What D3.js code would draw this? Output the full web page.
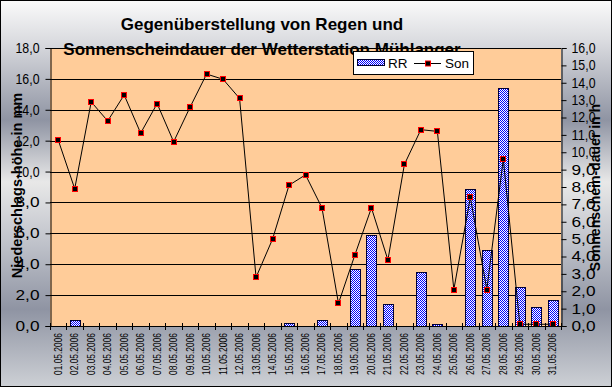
<!DOCTYPE html>
<html>
<head>
<meta charset="utf-8">
<script src="https://cdn.jsdelivr.net/npm/d3@7"></script>
<style>
  body { margin: 0; }
  svg text { font-family: "Liberation Sans", Arial, sans-serif; }
</style>
</head>
<body>
<svg id="canvas" width="612" height="387"></svg>
<script>
var days = ["01.05.2006", "02.05.2006", "03.05.2006", "04.05.2006", "05.05.2006", "06.05.2006",
    "07.05.2006", "08.05.2006", "09.05.2006", "10.05.2006", "11.05.2006", "12.05.2006",
    "13.05.2006", "14.05.2006", "15.05.2006", "16.05.2006", "17.05.2006", "18.05.2006",
    "19.05.2006", "20.05.2006", "21.05.2006", "22.05.2006", "23.05.2006", "24.05.2006",
    "25.05.2006", "26.05.2006", "27.05.2006", "28.05.2006", "29.05.2006", "30.05.2006",
    "31.05.2006"];

// Niederschlag (mm), linke Achse
var rr = [0, 0.4, 0, 0, 0, 0, 0, 0, 0, 0, 0, 0, 0, 0, 0.2, 0, 0.4, 0,
    3.7, 5.9, 1.4, 0, 3.5, 0.1, 0, 8.9, 4.9, 15.4, 2.5, 1.2, 1.7];

// Sonnenscheindauer (h), rechte Achse
var son = [10.7, 7.9, 12.9, 11.8, 13.3, 11.1, 12.8, 10.6, 12.6, 14.5, 14.2, 13.1,
    2.8, 5.0, 8.1, 8.7, 6.8, 1.3, 4.1, 6.8, 3.8, 9.3, 11.3, 11.2, 2.1, 7.4,
    2.1, 9.6, 0.1, 0.1, 0.1];

var leftTicks = [0, 2, 4, 6, 8, 10, 12, 14, 16, 18];
var rightTicks = [0, 1, 2, 3, 4, 5, 6, 7, 8, 9, 10, 11, 12, 13, 14, 15, 16];

var titleLines = ["Gegenüberstellung von Regen und", "Sonnenscheindauer der Wetterstation Mühlanger"];

var svg = d3.select('#canvas');
var W = 612, H = 387;
var pLeft = 50, pRight = 561, pTop = 48, pBottom = 326;

var fmt = function(d) { return d.toFixed(1).replace('.', ','); };

var defs = svg.append('defs');
var grad = defs.append('linearGradient')
    .attr('id', 'bg')
    .attr('x1', 0).attr('y1', 0).attr('x2', 0).attr('y2', 1);
[[0, '#fafafa'], [0.1, '#dcdde1'], [0.31, '#8f94a3'], [0.47, '#e8e8e8'],
 [0.63, '#bfc2ca'], [0.8, '#8f94a3'], [1, '#cdd0d5']].forEach(function(s) {
    grad.append('stop').attr('offset', s[0]).attr('stop-color', s[1]);
});

var pat = defs.append('pattern')
    .attr('id', 'checker')
    .attr('patternUnits', 'userSpaceOnUse')
    .attr('width', 2).attr('height', 2);
pat.append('rect').attr('width', 2).attr('height', 2).attr('fill', '#ffffff');
pat.append('rect').attr('width', 1).attr('height', 1).attr('fill', '#0000ff');
pat.append('rect').attr('x', 1).attr('y', 1).attr('width', 1).attr('height', 1).attr('fill', '#0000ff');

svg.append('rect')
    .attr('x', 0.5).attr('y', 0.5)
    .attr('width', W - 1).attr('height', H - 1)
    .attr('fill', 'url(#bg)')
    .attr('stroke', '#000');

var x = d3.scaleBand().domain(days).range([pLeft, pRight]);
var yL = d3.scaleLinear().domain([0, 18]).range([pBottom, pTop]);
var yR = d3.scaleLinear().domain([0, 16]).range([pBottom, pTop]);

svg.append('rect')
    .attr('x', pLeft).attr('y', pTop)
    .attr('width', pRight - pLeft).attr('height', pBottom - pTop)
    .attr('fill', '#ffcc99');

// title
svg.append('g').selectAll('text')
    .data(titleLines)
    .enter()
    .append('text')
    .attr('x', 262)
    .attr('y', function(d, i) { return 29.5 + i * 25.5; })
    .attr('text-anchor', 'middle')
    .style('font-weight', 'bold')
    .style('font-size', '17px')
    .text(function(d) { return d; });

// gridlines
svg.append('g').selectAll('line')
    .data(leftTicks.filter(function(d) { return d > 0; }))
    .enter()
    .append('line')
    .attr('x1', pLeft).attr('x2', pRight)
    .attr('y1', function(d) { return Math.round(yL(d)) + 0.5; })
    .attr('y2', function(d) { return Math.round(yL(d)) + 0.5; })
    .attr('stroke', '#000');

// bars
var bw = Math.round(x.bandwidth() * 0.63);
svg.append('g').selectAll('rect')
    .data(days.map(function(d, i) { return { day: d, v: rr[i] }; }).filter(function(d) { return d.v > 0; }))
    .enter()
    .append('rect')
    .attr('x', function(d) { return Math.round(x(d.day) + (x.bandwidth() - bw) / 2) + 0.5; })
    .attr('y', function(d) { return Math.round(yL(d.v)) + 0.5; })
    .attr('width', bw)
    .attr('height', function(d) { return pBottom - Math.round(yL(d.v)); })
    .attr('fill', 'url(#checker)')
    .attr('stroke', '#000033');

// line
var line = d3.line()
    .x(function(d, i) { return x(days[i]) + x.bandwidth() / 2; })
    .y(function(d) { return yR(d); });

svg.append('path')
    .datum(son)
    .attr('d', line)
    .attr('fill', 'none')
    .attr('stroke', '#000')
    .attr('stroke-width', 1);

svg.append('g').selectAll('rect')
    .data(son)
    .enter()
    .append('rect')
    .attr('x', function(d, i) { return Math.round(x(days[i]) + x.bandwidth() / 2) - 2.5; })
    .attr('y', function(d) { return Math.round(yR(d)) - 2.5; })
    .attr('width', 5).attr('height', 5)
    .attr('fill', '#000')
    .attr('stroke', '#ff0000');

// left axis
var axL = svg.append('g')
    .attr('transform', 'translate(' + (pLeft + 0.5) + ',0)')
    .call(d3.axisLeft(yL).tickValues(leftTicks).tickFormat(fmt).tickSize(5).tickPadding(6));

// right axis
var axR = svg.append('g')
    .attr('transform', 'translate(' + (pRight + 0.5) + ',0)')
    .call(d3.axisRight(yR).tickValues(rightTicks).tickFormat(fmt).tickSize(5).tickPadding(5));

[axL, axR].forEach(function(ax) {
    ax.select('.domain').attr('stroke', '#000');
    ax.selectAll('.tick line').attr('stroke', '#000');
    ax.selectAll('.tick text')
        .attr('fill', '#000')
        .attr('textLength', 24)
        .attr('lengthAdjust', 'spacingAndGlyphs')
        .style('font-family', '"Liberation Sans", Arial, sans-serif')
        .style('font-size', '14px');
});

// x axis
svg.append('line')
    .attr('x1', pLeft).attr('x2', pRight + 1)
    .attr('y1', pBottom + 0.5).attr('y2', pBottom + 0.5)
    .attr('stroke', '#000');

var bounds = days.map(function(d) { return x(d); }).concat([pRight]);
svg.append('g').selectAll('line')
    .data(bounds)
    .enter()
    .append('line')
    .attr('x1', function(d) { return Math.round(d) + 0.5; })
    .attr('x2', function(d) { return Math.round(d) + 0.5; })
    .attr('y1', pBottom - 3).attr('y2', pBottom + 4)
    .attr('stroke', '#000');

svg.append('g').selectAll('text')
    .data(days)
    .enter()
    .append('text')
    .attr('transform', function(d) {
        return 'translate(' + (x(d) + x.bandwidth() / 2 + 3.5) + ',' + (pBottom + 7) + ') rotate(-90)';
    })
    .attr('text-anchor', 'end')
    .attr('textLength', 42)
    .attr('lengthAdjust', 'spacingAndGlyphs')
    .style('font-size', '10.5px')
    .text(function(d) { return d; });

// axis titles
svg.append('text')
    .attr('transform', 'translate(22,185.5) rotate(-90)')
    .attr('text-anchor', 'middle')
    .style('font-weight', 'bold')
    .style('font-size', '14.5px')
    .text('Niederschlags-höhe in mm');

svg.append('text')
    .attr('transform', 'translate(600,187.5) rotate(-90)')
    .attr('text-anchor', 'middle')
    .style('font-weight', 'bold')
    .style('font-size', '14px')
    .text('Sonnenschein-dauer in h');

// legend
var lg = svg.append('g');
lg.append('rect')
    .attr('x', 353.5).attr('y', 51.5)
    .attr('width', 120).attr('height', 23)
    .attr('fill', '#fff')
    .attr('stroke', '#000');
lg.append('rect')
    .attr('x', 357.5).attr('y', 59.5)
    .attr('width', 27).attr('height', 6)
    .attr('fill', 'url(#checker)')
    .attr('stroke', '#000033');
lg.append('text')
    .attr('x', 388).attr('y', 67.5)
    .style('font-size', '13.5px')
    .text('RR');
lg.append('line')
    .attr('x1', 414).attr('x2', 441)
    .attr('y1', 63.5).attr('y2', 63.5)
    .attr('stroke', '#000');
lg.append('rect')
    .attr('x', 425.5).attr('y', 61)
    .attr('width', 5).attr('height', 5)
    .attr('fill', '#000')
    .attr('stroke', '#ff0000');
lg.append('text')
    .attr('x', 445).attr('y', 67.5)
    .style('font-size', '13.5px')
    .text('Son');
</script>
</body>
</html>
